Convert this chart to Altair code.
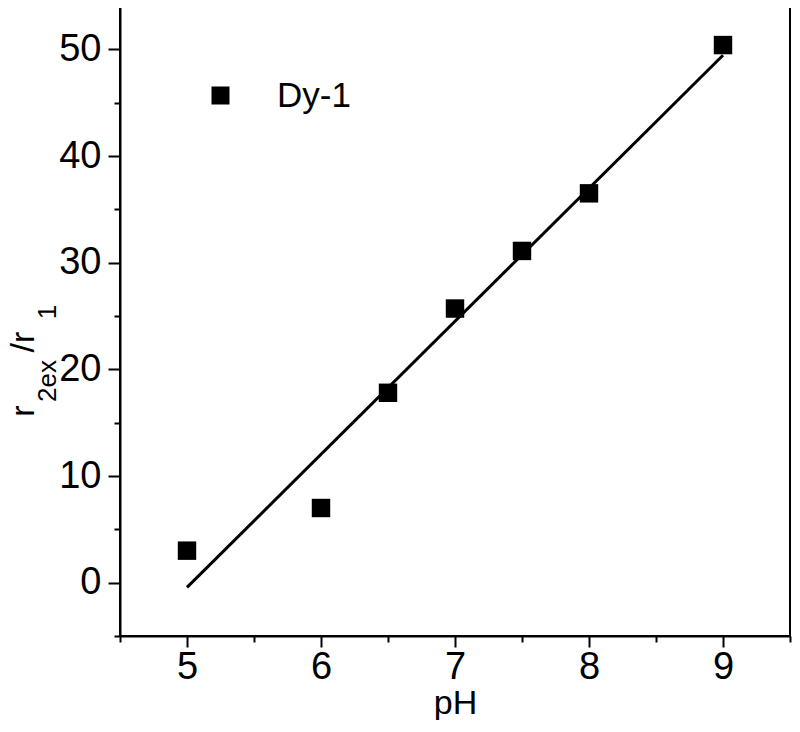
import altair as alt
import pandas as pd

# ---- data ----
ph = [5, 6, 6.5, 7, 7.5, 8, 9]
ratio = [3.0, 7.0, 17.8, 25.7, 31.1, 36.5, 50.4]
series = ["Dy-1"] * len(ph)

x_ticks = [4.5, 5, 5.5, 6, 6.5, 7, 7.5, 8, 8.5, 9, 9.5]
y_ticks = [-5, 0, 5, 10, 15, 20, 25, 30, 35, 40, 45, 50, 55]
x_domain = [4.5, 9.5]
y_domain = [-5, 55]
fit_extent = [5, 9]

x_title = "pH"
y_title_main_1 = "r"
y_title_sub_1 = "2ex"
y_title_main_2 = "/r"
y_title_sub_2 = "1"

FONT = "Liberation Sans"

df = pd.DataFrame({"pH": ph, "ratio": ratio, "series": series})

x_scale = alt.Scale(domain=x_domain, nice=False, zero=False)
y_scale = alt.Scale(domain=y_domain, nice=False, zero=False)

x_axis = alt.Axis(
    values=x_ticks,
    labelExpr="datum.value % 1 ? '' : format(datum.value, 'd')",
    tickSize={"condition": {"test": "datum.value % 1 !== 0", "value": 6}, "value": 11},
    labelFontSize=38,
    labelBaseline="alphabetic",
    labelPadding=31,
    labelFlush=False,
    labelOverlap=False,
    title=x_title,
    titleFontSize=34,
    titleFontWeight="normal",
    titleBaseline="alphabetic",
    titleY=77,
)
y_axis = alt.Axis(
    values=y_ticks,
    labelExpr="datum.value % 10 ? '' : format(datum.value, 'd')",
    tickSize={"condition": {"test": "datum.value % 10 !== 0", "value": 6}, "value": 12},
    labelFontSize=38,
    labelPadding=7,
    labelFlush=False,
    labelOverlap=False,
    title=None,
)

points = alt.Chart(df).mark_point(
    shape="square", filled=True, size=340, color="black", opacity=1
).encode(
    x=alt.X("pH:Q", scale=x_scale, axis=x_axis),
    y=alt.Y("ratio:Q", scale=y_scale, axis=y_axis),
    shape=alt.Shape(
        "series:N",
        scale=alt.Scale(range=["square"]),
        legend=alt.Legend(
            orient="none",
            legendX=83,
            legendY=82,
            title=None,
            padding=0,
            labelFont=FONT,
            labelFontSize=35,
            labelColor="black",
            labelOffset=39,
            symbolSize=324,
            symbolType="square",
            symbolFillColor="black",
            symbolStrokeColor="black",
            symbolStrokeWidth=0,
        ),
    ),
)

fit = alt.Chart(df).transform_regression(
    "pH", "ratio", extent=fit_extent
).mark_line(color="black", strokeWidth=3).encode(
    x=alt.X("pH:Q", scale=x_scale),
    y=alt.Y("ratio:Q", scale=y_scale),
)


def title_piece(text, x, y, size):
    return alt.Chart(pd.DataFrame({"t": [text]})).mark_text(
        angle=270, align="center", baseline="alphabetic",
        font=FONT, fontSize=size, color="black",
    ).encode(text="t:N", x=alt.value(x), y=alt.value(y))


y_title = (
    title_piece(y_title_main_1, -86, 415, 34)
    + title_piece(y_title_sub_1, -64, 385, 26)
    + title_piece(y_title_main_2, -86, 346, 34)
    + title_piece(y_title_sub_2, -64, 316, 26)
)

chart = alt.layer(fit, points, y_title).properties(
    width=670,
    height=640,
    autosize=alt.AutoSizeParams(type="none"),
    padding={"left": 112, "top": -12, "right": 2, "bottom": 84},
).configure_view(
    stroke="black", strokeWidth=2
).configure_axis(
    grid=False,
    domainColor="black",
    domainWidth=2,
    tickColor="black",
    tickWidth=2,
    labelColor="black",
    labelFont=FONT,
    titleFont=FONT,
    titleColor="black",
)

chart.save("out.html", embed_options={"renderer": "svg", "actions": False})
